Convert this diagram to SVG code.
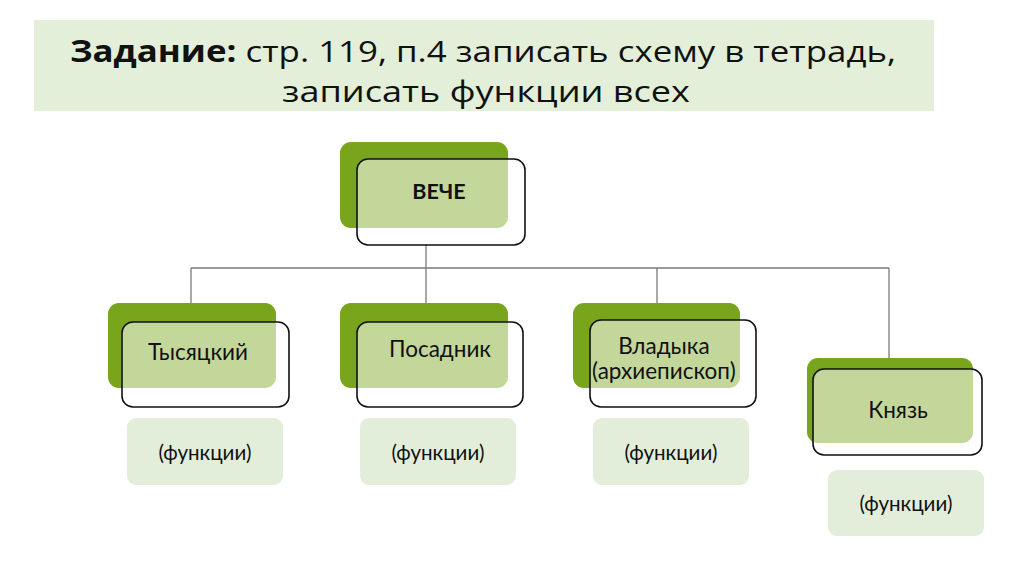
<svg xmlns="http://www.w3.org/2000/svg" width="1024" height="574" viewBox="0 0 1024 574">
<style>
.dk{fill:#78a51c}
.ol{fill:#ffffff;fill-opacity:0.56;stroke:#111;stroke-width:1.6}
.fn{fill:#e2eed9}
.t{font-family:"Open Sans","DejaVu Sans",sans-serif;fill:#111;text-anchor:middle}
.b{font-family:Lato,"Open Sans",sans-serif;fill:#111;text-anchor:middle}
.bt{font-size:22.5px}
.ft{font-size:20.5px}
.conn line{stroke:#7a7a7a;stroke-width:1.3}
</style>
<rect width="1024" height="574" fill="#fff"/>
<g id="title">
<rect x="34" y="20" width="900" height="91" fill="#e3efd9"/>
<text class="t" x="483" y="62" font-size="30" textLength="826" lengthAdjust="spacingAndGlyphs"><tspan font-weight="bold">Задание:</tspan> стр. 119, п.4 записать схему в тетрадь,</text>
<text class="t" x="486" y="102" font-size="30" textLength="408" lengthAdjust="spacingAndGlyphs">записать функции всех</text>
</g>
<g class="conn" id="connectors">
<line x1="426" y1="244" x2="426" y2="268"/>
<line x1="191" y1="268" x2="889" y2="268"/>
<line x1="191" y1="268" x2="191" y2="303"/>
<line x1="426" y1="268" x2="426" y2="303"/>
<line x1="657" y1="268" x2="657" y2="303"/>
<line x1="889" y1="268" x2="889" y2="358"/>
</g>
<g id="veche">
<rect class="dk" x="340" y="142" width="168" height="86" rx="11"/>
<rect class="ol" x="357" y="159" width="168" height="86" rx="11"/>
<text class="b" x="439" y="199" font-size="21.5" font-weight="bold">ВЕЧЕ</text>
</g>
<g id="tysyatsky">
<rect class="dk" x="108" y="303" width="168" height="85" rx="11"/>
<rect class="ol" x="122" y="322" width="167" height="85" rx="11"/>
<text class="b bt" x="198" y="360">Тысяцкий</text>
</g>
<g id="posadnik">
<rect class="dk" x="340" y="303" width="168" height="85" rx="11"/>
<rect class="ol" x="357" y="322" width="166" height="85" rx="11"/>
<text class="b bt" x="440" y="357">Посадник</text>
</g>
<g id="vladyka">
<rect class="dk" x="573" y="303" width="167" height="85" rx="11"/>
<rect class="ol" x="590" y="320" width="166" height="87" rx="11"/>
<text class="b bt" x="664" y="354">Владыка</text>
<text class="b bt" x="664" y="379">(архиепископ)</text>
</g>
<g id="knyaz">
<rect class="dk" x="807" y="358" width="166" height="85" rx="11"/>
<rect class="ol" x="813" y="369" width="169" height="86" rx="11"/>
<text class="b bt" x="898" y="418">Князь</text>
</g>
<g id="f1">
<rect class="fn" x="127" y="418" width="156" height="67" rx="9"/>
<text class="b ft" x="205" y="460">(функции)</text>
</g>
<g id="f2">
<rect class="fn" x="360" y="418" width="156" height="67" rx="9"/>
<text class="b ft" x="438" y="460">(функции)</text>
</g>
<g id="f3">
<rect class="fn" x="593" y="418" width="156" height="67" rx="9"/>
<text class="b ft" x="671" y="460">(функции)</text>
</g>
<g id="f4">
<rect class="fn" x="828" y="470" width="156" height="66" rx="9"/>
<text class="b ft" x="906" y="511">(функции)</text>
</g>
</svg>
